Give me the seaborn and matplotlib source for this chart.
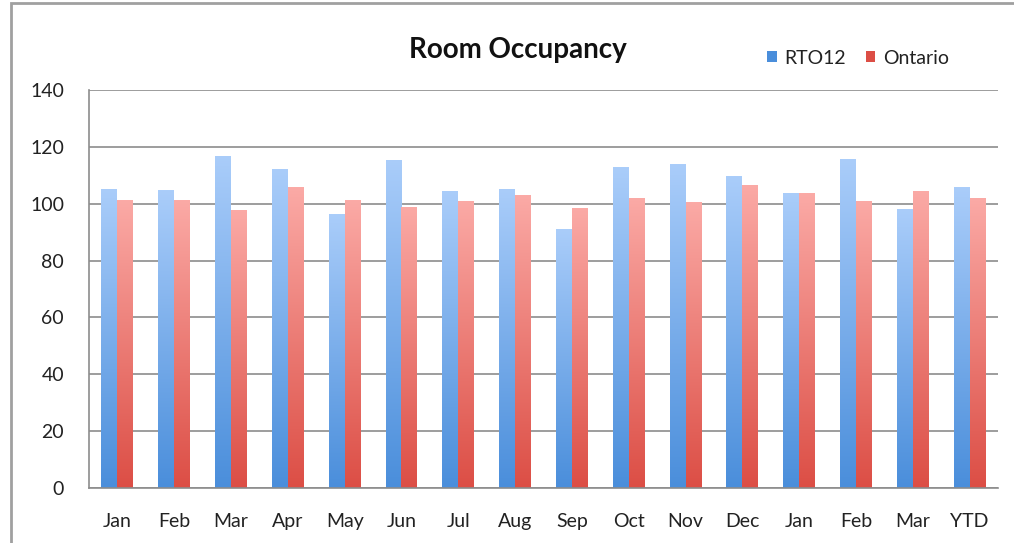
import numpy as np
import pandas as pd
import seaborn as sns
import matplotlib.pyplot as plt
from matplotlib.colors import LinearSegmentedColormap
from matplotlib.patches import Rectangle, Patch

# Dữ liệu
months = ["Jan", "Feb", "Mar", "Apr", "May", "Jun", "Jul", "Aug",
          "Sep", "Oct", "Nov", "Dec", "Jan", "Feb", "Mar", "YTD"]
rto12 = [105.2, 104.8, 116.9, 112.2, 96.3, 115.5, 104.6, 105.3,
         91.1, 112.9, 113.9, 109.7, 103.9, 115.7, 98.1, 105.8]
ontario = [101.3, 101.2, 97.8, 105.8, 101.2, 99.0, 101.0, 103.0,
           98.4, 102.1, 100.5, 106.6, 103.6, 101.0, 104.5, 102.1]
series = ["RTO12", "Ontario"]

blue_top, blue_bottom = "#aacdfa", "#4a8edb"
red_top, red_bottom = "#fbaaa6", "#dc4e45"

df = pd.DataFrame({
    "pos": list(range(len(months))) * 2,
    "value": rto12 + ontario,
    "series": [series[0]] * len(months) + [series[1]] * len(months),
})

sns.set_style("white")
plt.rcParams["font.family"] = ["Lato", "DejaVu Sans"]

fig = plt.figure(figsize=(10.14, 5.43), dpi=100)
ax = fig.add_axes([89 / 1014, 1 - 488 / 543, (998 - 89) / 1014, (488 - 90) / 543])

sns.barplot(data=df, x="pos", y="value", hue="series", hue_order=series,
            palette=[blue_bottom, red_bottom], width=0.56, gap=0,
            legend=False, ax=ax)

# Tô màu chuyển sắc cho từng cột
cmaps = {
    0: LinearSegmentedColormap.from_list("b", [blue_bottom, blue_top]),
    1: LinearSegmentedColormap.from_list("r", [red_bottom, red_top]),
}
grad = np.linspace(0, 1, 256).reshape(-1, 1)
for i, cont in enumerate(ax.containers):
    for bar in cont:
        x0, y0 = bar.get_x(), bar.get_y()
        w, h = bar.get_width(), bar.get_height()
        bar.set_facecolor("none")
        bar.set_edgecolor("none")
        im = ax.imshow(grad, cmap=cmaps[i], origin="lower", aspect="auto",
                       extent=[x0, x0 + w, y0, y0 + h], zorder=2)
        im.set_clip_path(bar)

ax.set_xlim(-0.5, len(months) - 0.5)
ax.set_ylim(0, 140)
ax.set_yticks(range(0, 141, 20))
ax.set_xticks(range(len(months)))
ax.set_xticklabels(months)
ax.set_xticks(np.arange(-0.5, len(months), 1), minor=True)
ax.tick_params(axis="x", which="major", length=0, pad=18, labelsize=14, colors="#222222")
ax.tick_params(axis="x", which="minor", length=5, width=1.2, color="#8c8c8c", direction="out")
ax.tick_params(axis="y", length=5, width=1.2, color="#8c8c8c", direction="out",
               pad=13, labelsize=14, labelcolor="#222222")
ax.yaxis.grid(True, color="#8c8c8c", linewidth=1.2)
ax.set_axisbelow(True)
ax.set_xlabel("")
ax.set_ylabel("")
for s in ["top", "right"]:
    ax.spines[s].set_visible(False)
for s in ["left", "bottom"]:
    ax.spines[s].set_color("#8c8c8c")
    ax.spines[s].set_linewidth(1.2)

fig.text(518 / 1014, 1 - 50 / 543, "Room Occupancy", ha="center", va="center",
         fontsize=20, fontweight="bold", color="#111111")

handles = [Patch(facecolor=blue_bottom, edgecolor="none"),
           Patch(facecolor=red_bottom, edgecolor="none")]
fig.legend(handles, series, loc="center", bbox_to_anchor=(858 / 1014, 1 - 58 / 543),
           ncol=2, frameon=False, fontsize=14, handlelength=0.5, handleheight=0.5,
           handletextpad=0.4, columnspacing=1.0, labelcolor="#222222")

# Khung viền biểu đồ
fig.add_artist(Rectangle((11 / 1014, -0.1), 1.2, 1 - 3 / 543 + 0.1,
                         transform=fig.transFigure, fill=False,
                         edgecolor="#a0a0a0", linewidth=2, clip_on=False))

fig.savefig("out.png", dpi=100, facecolor="white")
